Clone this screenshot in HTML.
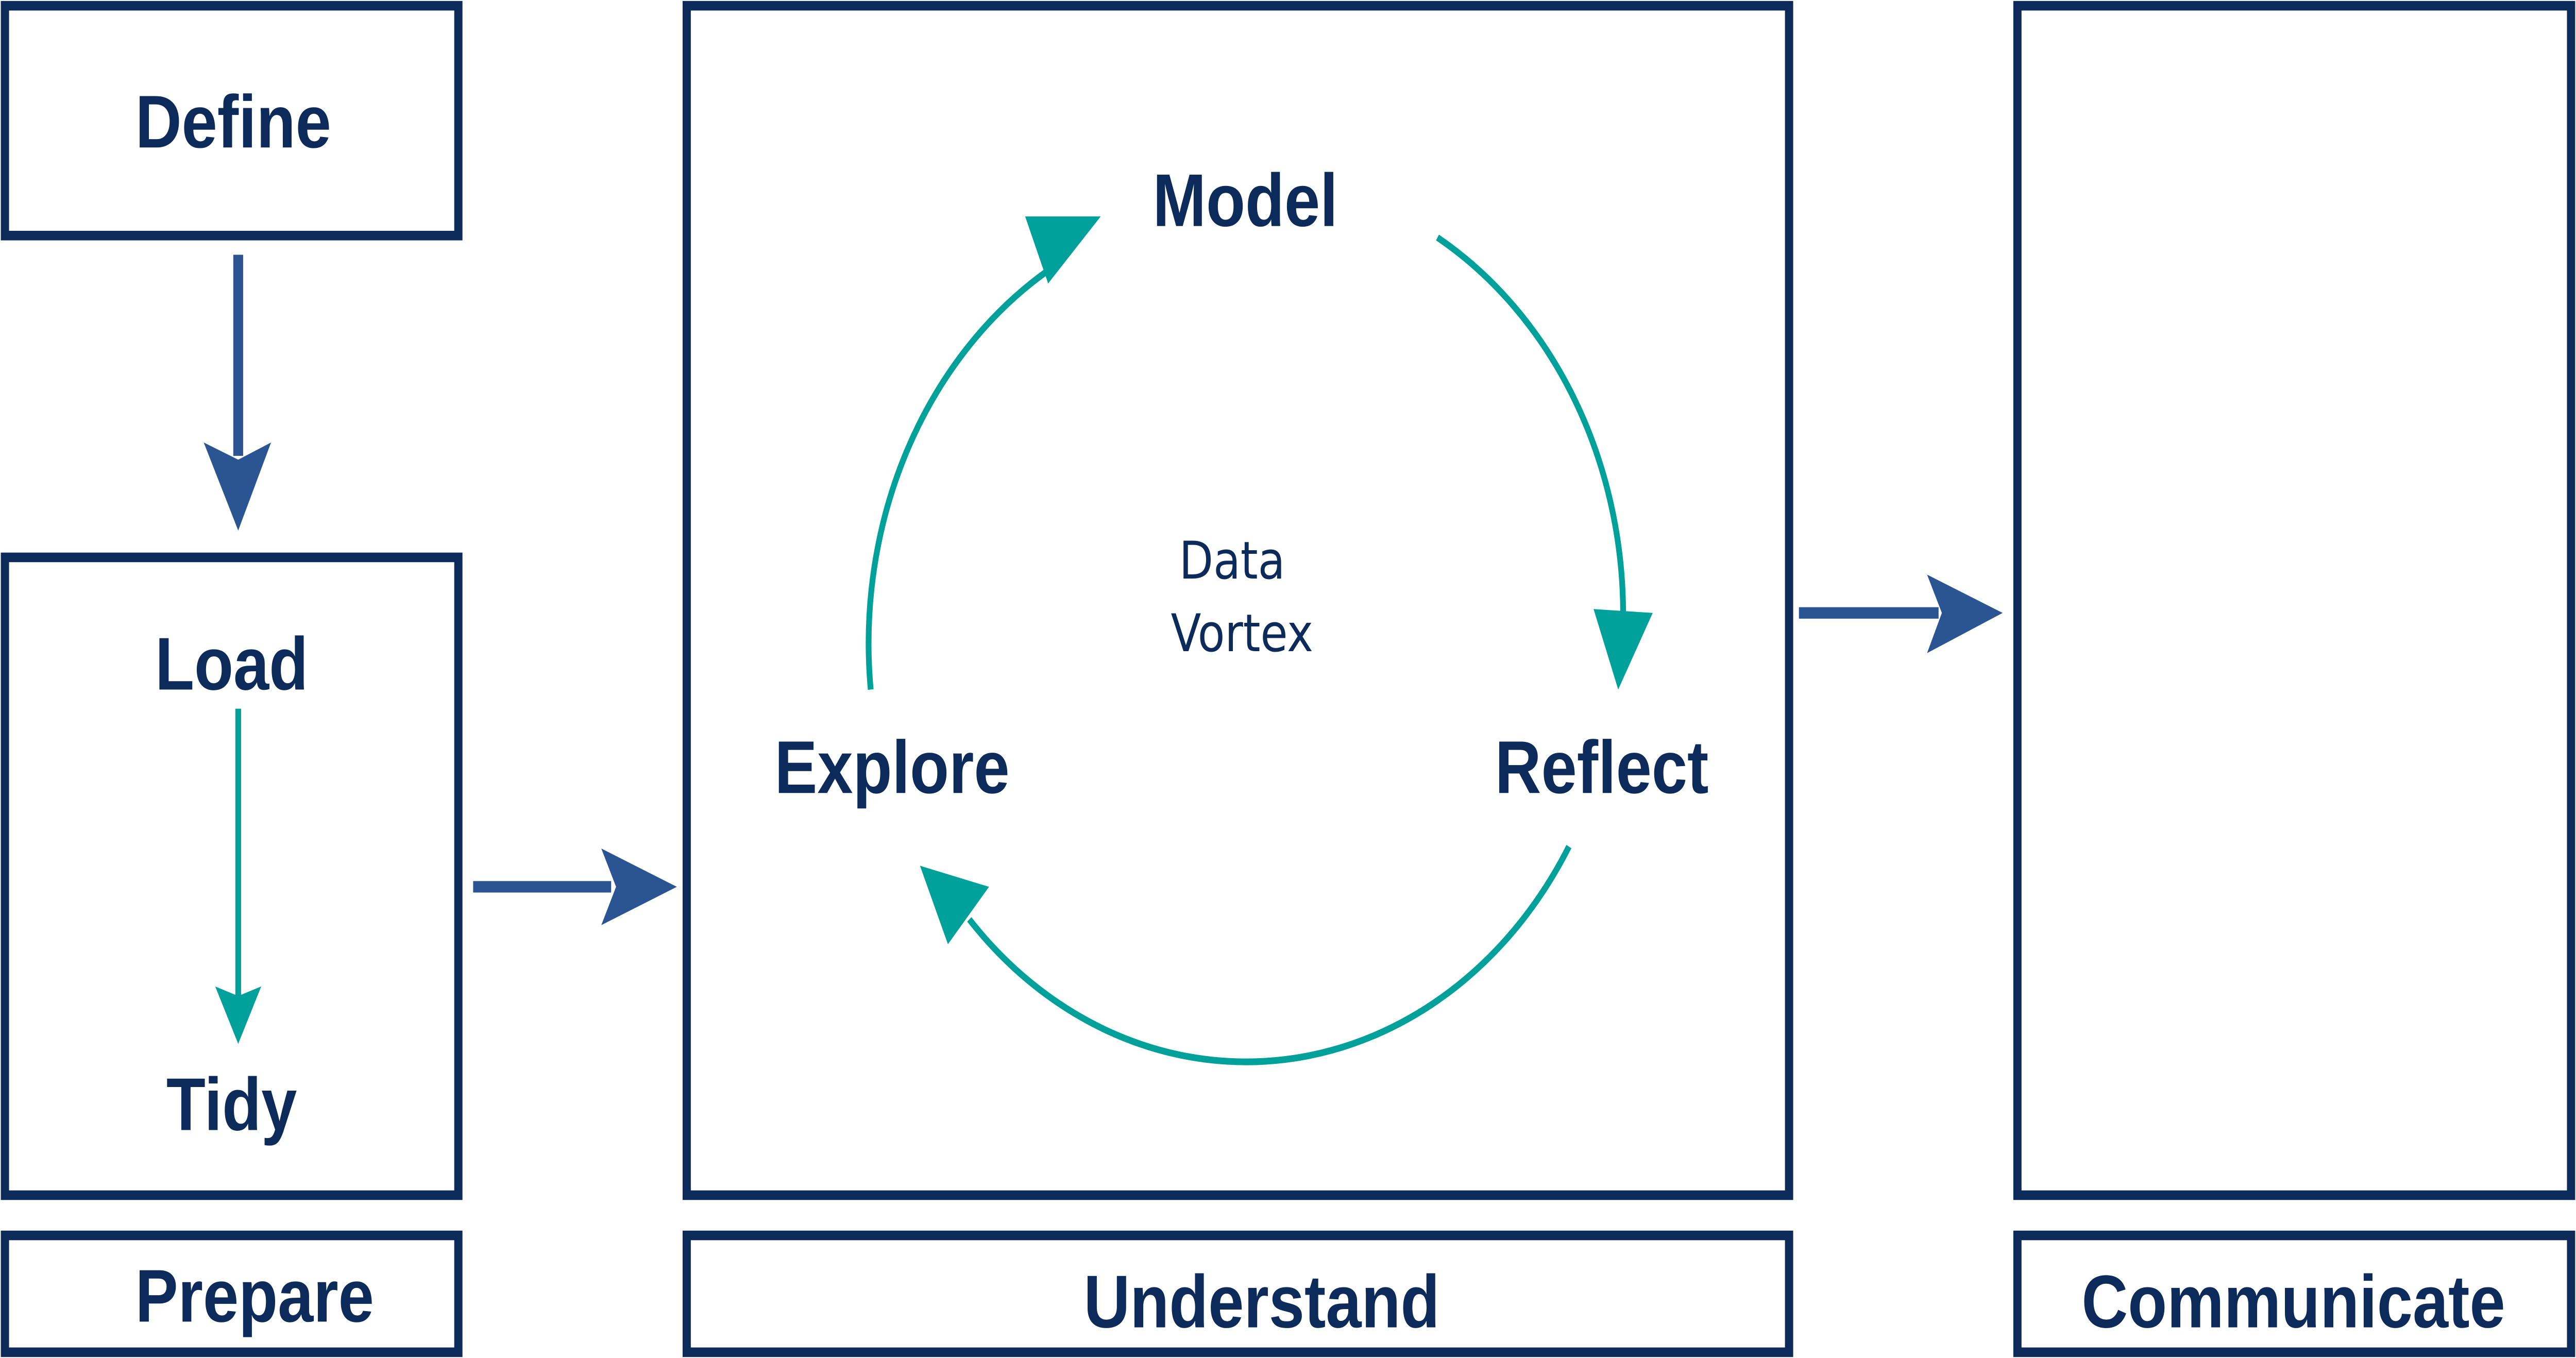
<!DOCTYPE html>
<html><head><meta charset="utf-8"><style>
html,body{margin:0;padding:0;background:#fff;width:100vw;height:100vh;overflow:hidden;}
svg{display:block;position:absolute;left:0;top:0;width:100vw;height:100vh;}
</style></head><body>
<svg viewBox="0 0 1568 709" preserveAspectRatio="none" xmlns="http://www.w3.org/2000/svg">
<g fill="none" stroke="#0c2a5a" stroke-width="5">
<rect x="3" y="3" width="276" height="120"/>
<rect x="3" y="291" width="276" height="333"/>
<rect x="3" y="645" width="276" height="61"/>
<rect x="418" y="3" width="671" height="621"/>
<rect x="418" y="645" width="671" height="61"/>
<rect x="1228" y="3" width="337" height="621"/>
<rect x="1228" y="645" width="337" height="61"/>
</g>
<g font-family="Liberation Sans, sans-serif" fill="#0c2a5a" font-size="39" font-weight="bold" text-anchor="middle">
<text x="142" y="77">Define</text>
<text x="141" y="360">Load</text>
<text x="141" y="590">Tidy</text>
<text x="155" y="690">Prepare</text>
<text x="768" y="693">Understand</text>
<text x="1396" y="693">Communicate</text>
<text x="758" y="118">Model</text>
<text x="975" y="414">Reflect</text>
<text x="543" y="414">Explore</text>
</g>
<g font-family="DejaVu Sans, sans-serif" fill="#0c2a5a" font-size="27" text-anchor="middle">
<text x="750" y="302">Data</text>
<text x="756" y="340">Vortex</text>
</g>
<g stroke="#2a5592" stroke-width="6" fill="none">
<line x1="145" y1="133" x2="145" y2="238"/>
<line x1="288" y1="463" x2="372" y2="463"/>
<line x1="1095" y1="320" x2="1180" y2="320"/>
</g>
<g fill="#2a5592">
<polygon points="124,231 145,277 165,231 145,240"/>
<polygon points="366,443 412,463 366,483 375,463"/>
<polygon points="1173,300 1219,320 1173,341 1182,320"/>
</g>
<line x1="145" y1="370" x2="145" y2="520" stroke="#00a19a" stroke-width="3.5"/>
<polygon points="131,515 145,545 159,515 145,520" fill="#00a19a"/>
<g stroke="#00a19a" stroke-width="3.5" fill="none">
<path d="M875,124 A228,228 0 0 1 988,320"/>
<path d="M530,360 A228,228 0 0 1 640,140"/>
<path d="M955,442 A228,228 0 0 1 590,480"/>
</g>
<g fill="#00a19a">
<polygon points="970,318 985,360 1006,320"/>
<polygon points="624,113 670,113 638,148"/>
<polygon points="560,452 602,463 577,493"/>
</g>
</svg>
</body></html>
